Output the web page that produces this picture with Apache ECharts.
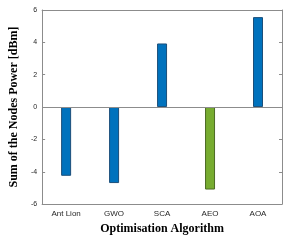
<!DOCTYPE html>
<html>
<head>
<meta charset="utf-8">
<script src="https://cdn.jsdelivr.net/npm/echarts@6/dist/echarts.min.js"></script>
<style>
html, body { margin: 0; padding: 0; background: #fff; }
#main { width: 286px; height: 240px; }
</style>
</head>
<body>
<div id="main"></div>
<script>
var myChart = echarts.init(document.getElementById('main'));

var algorithms = ['Ant Lion', 'GWO', 'SCA', 'AEO', 'AOA'];
var nodePower = [-4.25, -4.7, 3.93, -5.1, 5.56];
var barColors = ['#0072bd', '#0072bd', '#0072bd', '#77ac30', '#0072bd'];
var barEdges = ['#1b4f7a', '#1b4f7a', '#1b4f7a', '#4d6b26', '#1b4f7a'];

var axisGray = '#8c8c8c';
var tickText = '#262626';

var option = {
    animation: false,
    grid: {
        left: 34,
        right: 4,
        top: 10,
        bottom: 34
    },
    xAxis: [
        {
            type: 'category',
            data: algorithms,
            position: 'bottom',
            name: 'Optimisation Algorithm',
            nameLocation: 'middle',
            nameGap: 15,
            nameTextStyle: {
                fontFamily: 'Liberation Serif',
                fontWeight: 'bold',
                fontSize: 12,
                color: '#000'
            },
            axisLine: { onZero: false, lineStyle: { color: axisGray } },
            axisTick: { inside: true, alignWithLabel: true, length: 3, lineStyle: { color: axisGray } },
            axisLabel: { fontFamily: 'Liberation Sans', fontSize: 8, color: tickText, margin: 6 }
        },
        {
            type: 'category',
            data: algorithms,
            position: 'top',
            axisLine: { onZero: false, lineStyle: { color: axisGray } },
            axisTick: { inside: true, alignWithLabel: true, length: 3, lineStyle: { color: axisGray } },
            axisLabel: { show: false }
        }
    ],
    yAxis: [
        {
            type: 'value',
            min: -6,
            max: 6,
            interval: 2,
            name: 'Sum of the Nodes Power [dBm]',
            nameLocation: 'middle',
            nameGap: 16,
            nameTextStyle: {
                fontFamily: 'Liberation Serif',
                fontWeight: 'bold',
                fontSize: 12,
                color: '#000'
            },
            axisLine: { show: true, lineStyle: { color: axisGray } },
            axisTick: { show: true, inside: true, length: 3, lineStyle: { color: axisGray } },
            axisLabel: { fontFamily: 'Liberation Sans', fontSize: 7, color: tickText, margin: 5 },
            splitLine: { show: false }
        },
        {
            type: 'value',
            min: -6,
            max: 6,
            interval: 2,
            position: 'right',
            axisLine: { show: true, lineStyle: { color: axisGray } },
            axisTick: { show: true, inside: true, length: 3, lineStyle: { color: axisGray } },
            axisLabel: { show: false },
            splitLine: { show: false }
        }
    ],
    series: [
        {
            type: 'bar',
            barWidth: 10,
            data: nodePower.map(function (v, i) {
                return {
                    value: v,
                    itemStyle: { color: barColors[i], borderColor: barEdges[i], borderWidth: 1 }
                };
            }),
            markLine: {
                silent: true,
                symbol: 'none',
                label: { show: false },
                lineStyle: { color: axisGray, type: 'solid', width: 1 },
                data: [{ yAxis: 0 }]
            }
        }
    ]
};

myChart.setOption(option);
</script>
</body>
</html>
